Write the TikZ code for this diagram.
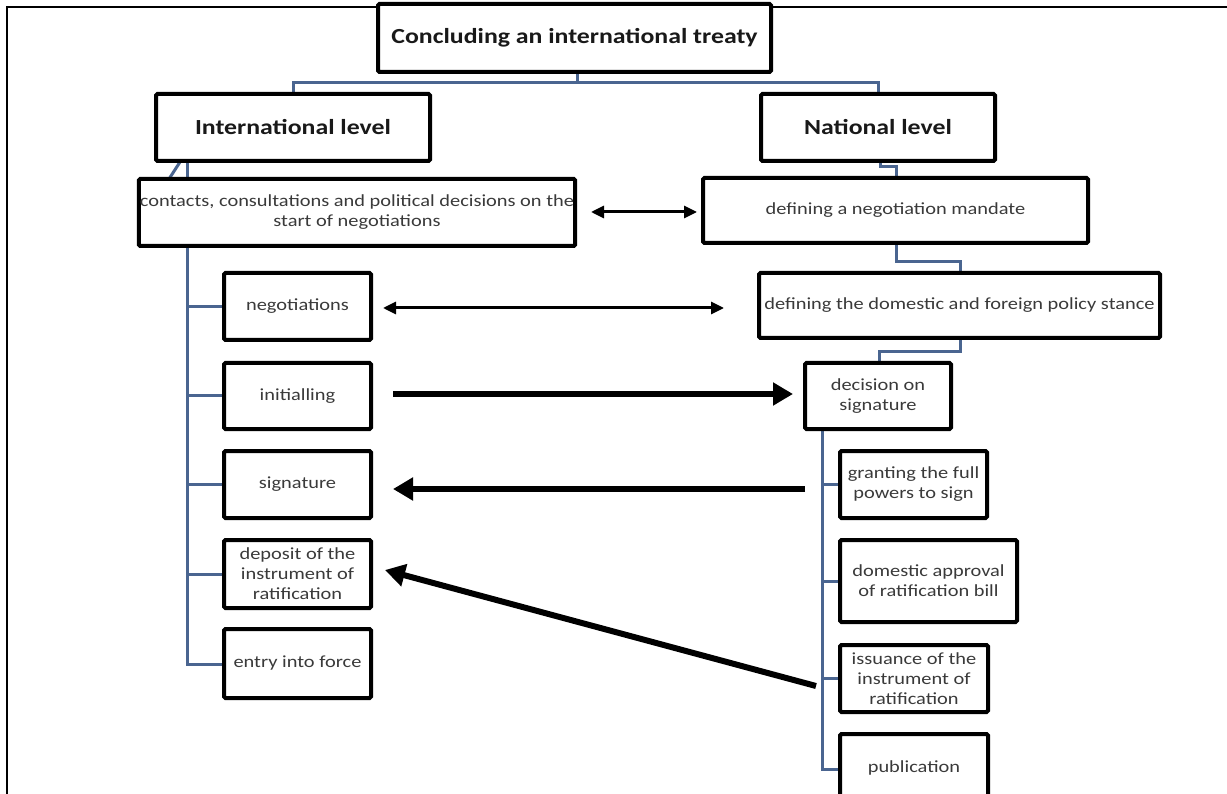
\documentclass[tikz,border=0pt]{standalone}
\usepackage{fontspec}
\setmainfont{Carlito}
\newfontfamily\widefont[FakeStretch=1.2]{Carlito}
\usetikzlibrary{arrows.meta}
\definecolor{connc}{HTML}{4A6590}
\definecolor{txtc}{HTML}{3A3A3A}
\tikzset{
  box/.style={draw=black, line width=4pt, rounded corners=1.5pt, fill=white, align=center, inner sep=1pt},
  bigtxt/.style={font=\widefont\fontsize{21.5}{24}\selectfont\bfseries, text=black!90},
  smalltxt/.style={font=\widefont\fontsize{17}{20}\selectfont, text=txtc},
  conn/.style={draw=connc, line width=3pt},
  dbl/.style={line width=3pt, {Triangle[length=13pt,width=12pt]}-{Triangle[length=13pt,width=12pt]}},
  bigarr/.style={line width=6pt, -{Triangle[length=20pt,width=22pt]}},
}
\begin{document}
\begin{tikzpicture}[x=1pt,y=-1pt]
\useasboundingbox (0,0) rectangle (1227,794);
\clip (0,0) rectangle (1227,794);
% frame
\draw[line width=1.5pt] (1230,7) -- (7,7) -- (7,800);
% coordinates
\coordinate (hbar) at (577,83);
\coordinate (spL) at (187,161);
\coordinate (spR) at (822,429);
% connectors (drawn first)
\draw[conn] (577,72) -- (hbar);
\draw[conn] (293,94) |- (hbar) -| (878,94);
\draw[conn] (spL) -- (187,664) -- (297,664);
\draw[conn] (169,179) -- (180,162);
\draw[conn] (880,161) -- (880,167) -- (896,167) -- (896,178);
\draw[conn] (896,243) -- (896,262) -- (960,262) -- (960,273);
\draw[conn] (960,338) -- (960,352) -- (879,352) -- (879,363);
\draw[conn] (spR) -- (822,769) -- (900,769);
% nodes
\node[box, bigtxt, minimum width=393pt, minimum height=68pt] (title) at (574.5,38) {Concluding an international treaty};
\node[box, bigtxt, minimum width=274pt, minimum height=67pt] (intl) at (293,127.5) {International level};
\node[box, bigtxt, minimum width=234pt, minimum height=67pt] (natl) at (878,127.5) {National level};
\node[box, smalltxt, minimum width=436pt, minimum height=67pt] (contacts) at (357,212.5) {contacts, consultations and political decisions on the\\start of negotiations};
\node[box, smalltxt, minimum width=385pt, minimum height=65pt] (mandate) at (895.5,210.5) {defining a negotiation mandate};
\node[box, smalltxt, minimum width=147pt, minimum height=67pt] (neg) at (297.5,306.5) {negotiations};
\node[box, smalltxt, minimum width=147pt, minimum height=66pt] (init) at (297.5,396) {initialling};
\node[box, smalltxt, minimum width=147pt, minimum height=67pt] (sig) at (297.5,484.5) {signature};
\node[box, smalltxt, minimum width=147pt, minimum height=68pt] (dep) at (297.5,574) {deposit of the\\instrument of\\ratification};
\node[box, smalltxt, minimum width=147pt, minimum height=69pt] (entry) at (297.5,663.5) {entry into force};
\node[box, smalltxt, minimum width=401pt, minimum height=65pt] (stance) at (959.5,305.5) {defining the domestic and foreign policy stance};
\node[box, smalltxt, minimum width=146pt, minimum height=66pt] (decision) at (878,396) {decision on\\signature};
\node[box, smalltxt, minimum width=147pt, minimum height=67pt] (granting) at (913.5,484.5) {granting the full\\powers to sign};
\node[box, smalltxt, minimum width=177pt, minimum height=82pt] (domestic) at (928.5,581) {domestic approval\\of ratification bill};
\node[box, smalltxt, minimum width=148pt, minimum height=67pt] (issuance) at (914,678.5) {issuance of the\\instrument of\\ratification};
\node[box, smalltxt, minimum width=148pt, minimum height=68pt] (pub) at (914,768) {publication};
% branches
\draw[conn] (spL |- neg.west) -- (neg.west);
\draw[conn] (spL |- init.west) -- (init.west);
\draw[conn] (spL |- sig.west) -- (sig.west);
\draw[conn] (spL |- dep.west) -- (dep.west);
\draw[conn] (spR |- granting.west) -- (granting.west);
\draw[conn] (spR |- domestic.west) -- (domestic.west);
\draw[conn] (spR |- issuance.west) -- (issuance.west);
% arrows
\coordinate (a1) at (591,212); \coordinate (a2) at (697,212);
\draw[dbl] (a1) -- (a2);
\coordinate (b1) at (383,308); \coordinate (b2) at (724,308);
\draw[dbl] (b1) -- (b2);
\coordinate (c1) at (393,394); \coordinate (c2) at (793,394);
\draw[bigarr] (c1) -- (c2);
\coordinate (d1) at (805,489); \coordinate (d2) at (393,489);
\draw[bigarr] (d1) -- (d2);
\coordinate (e1) at (816,686); \coordinate (e2) at (385,570);
\draw[bigarr] (e1) -- (e2);
\end{tikzpicture}
\end{document}
